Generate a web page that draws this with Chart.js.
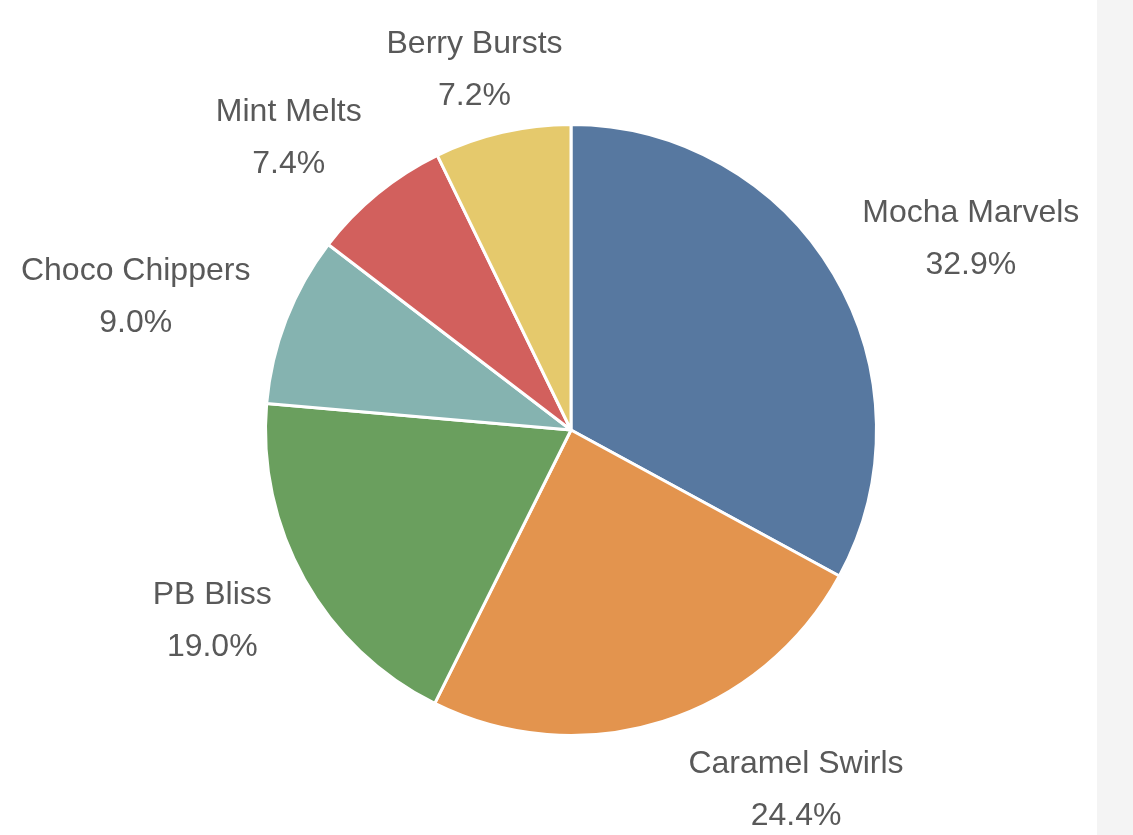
<!DOCTYPE html>
<html><head><meta charset="utf-8">
<script src="https://cdn.jsdelivr.net/npm/chart.js@4"></script>
<style>
html,body{margin:0;padding:0;background:#fff;}
#wrap{position:relative;width:1133px;height:835px;}
#strip{position:absolute;left:1097px;top:0;width:36px;height:835px;background:#f4f4f4;}
canvas{position:absolute;left:0;top:0;}
</style></head><body>
<div id="wrap"><div id="strip"></div><canvas id="c" width="1133" height="835"></canvas></div>
<script>
const categories = ["Mocha Marvels","Caramel Swirls","PB Bliss","Choco Chippers","Mint Melts","Berry Bursts"];
const shares = [32.9,24.4,19.0,9.0,7.4,7.2];
const colors = ["#5778A0","#E3944E","#6A9F5E","#85B3B0","#D2605D","#E5C96C"];
// label placement: [angle from top in degrees, distance as fraction of radius]
const labelPlace = [[64.5,1.45],[148,1.39],[242,1.33],[287,1.49],[316,1.33],[345,1.22]];

const labelPlugin = {
  id:'outLabels',
  afterDatasetsDraw(chart){
    const ctx = chart.ctx;
    const meta = chart.getDatasetMeta(0);
    meta.data.forEach((arc,i)=>{
      const [deg,f] = labelPlace[i];
      const a = deg*Math.PI/180;
      const x = arc.x + Math.sin(a)*arc.outerRadius*f;
      const y = arc.y - Math.cos(a)*arc.outerRadius*f;
      ctx.save();
      ctx.fillStyle = '#595959';
      ctx.font = '32px "Liberation Sans", "DejaVu Sans", sans-serif';
      ctx.textAlign = 'center';
      ctx.textBaseline = 'middle';
      ctx.fillText(categories[i], x, y-26);
      ctx.fillText(shares[i].toFixed(1)+'%', x, y+26);
      ctx.restore();
    });
  }
};

new Chart(document.getElementById('c'),{
  type:'pie',
  data:{labels:categories,datasets:[{data:shares,backgroundColor:colors,borderColor:'#ffffff',borderWidth:3}]},
  options:{
    responsive:false,animation:false,
    layout:{padding:{left:264,right:255,top:123,bottom:98}},
    plugins:{legend:{display:false},tooltip:{enabled:false}}
  },
  plugins:[labelPlugin]
});
</script>
</body></html>
